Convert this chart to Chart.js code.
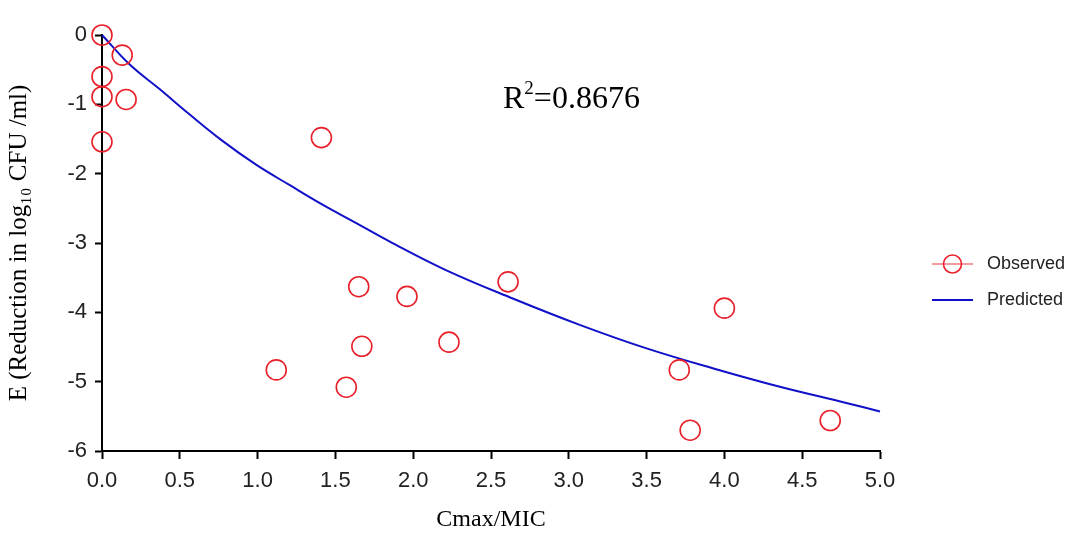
<!DOCTYPE html>
<html>
<head>
<meta charset="utf-8">
<script src="https://cdn.jsdelivr.net/npm/chart.js@4.4.0/dist/chart.umd.min.js"></script>
<style>
html,body{margin:0;padding:0;background:#fff;}
#wrap{width:1084px;height:535px;position:relative;}
</style>
</head>
<body>
<div id="wrap"><canvas id="c" width="1084" height="535"></canvas></div>
<script>
// ---- data ----
const observedX = [0, 0.13, 0, 0, 0.155, 0, 1.41, 1.65, 1.67, 1.12, 1.57, 1.96, 2.61, 2.23, 4.00, 3.71, 3.78, 4.68];
const observedY = [0, -0.29, -0.60, -0.89, -0.93, -1.54, -1.48, -3.63, -4.49, -4.83, -5.08, -3.77, -3.56, -4.43, -3.94, -4.83, -5.70, -5.56];
const predictedX = [0, 0.18, 0.37, 0.56, 0.77, 0.99, 1.21, 1.42, 1.64, 1.85, 2.21, 2.64, 3.07, 3.50, 3.93, 4.35, 4.79, 5.0];
const predictedY = [0, -0.43, -0.78, -1.14, -1.52, -1.87, -2.17, -2.45, -2.72, -2.98, -3.39, -3.80, -4.18, -4.52, -4.81, -5.07, -5.31, -5.43];
const xTickValues = [0, 0.5, 1.0, 1.5, 2.0, 2.5, 3.0, 3.5, 4.0, 4.5, 5.0];
const yTickValues = [0, -1, -2, -3, -4, -5, -6];
const seriesLabels = ['Observed', 'Predicted'];
const xTitle = 'Cmax/MIC';
const yTitle = 'E (Reduction in log\u2081\u2080 CFU /ml)';
const r2Base = 'R', r2Sup = '2', r2Rest = '=0.8676';

const RED = '#e8202a';
const BLUE = '#1010c8';
const SANS = '"Liberation Sans", Arial, sans-serif';
const SERIF = '"Liberation Serif", "Times New Roman", serif';

const observedPts = observedX.map((x, i) => ({x: x, y: observedY[i]}));
const predictedPts = predictedX.map((x, i) => ({x: x, y: predictedY[i]}));

const extras = {
  id: 'extras',
  afterDraw(chart) {
    const ctx = chart.ctx;
    const ca = chart.chartArea;
    ctx.save();
    // R^2 annotation
    ctx.fillStyle = '#000';
    ctx.textBaseline = 'alphabetic';
    ctx.textAlign = 'left';
    let x = 503, y = 108;
    ctx.font = '32px ' + SERIF;
    ctx.fillText(r2Base, x, y);
    x += ctx.measureText(r2Base).width;
    ctx.font = '19px ' + SERIF;
    ctx.fillText(r2Sup, x, y - 14);
    x += ctx.measureText(r2Sup).width;
    ctx.font = '32px ' + SERIF;
    ctx.fillText(r2Rest, x, y);

    // legend
    const ds = chart.data.datasets;
    const lx0 = ca.right + 52, lx1 = ca.right + 93, tx = ca.right + 107;
    const rows = [264, 300];
    ctx.font = '18px ' + SANS;
    ctx.textBaseline = 'middle';
    ds.forEach((d, i) => {
      const ry = rows[i];
      if (i === 0) {
        ctx.strokeStyle = 'rgba(232,32,42,0.45)';
        ctx.lineWidth = 2;
        ctx.beginPath(); ctx.moveTo(lx0, ry); ctx.lineTo(lx1, ry); ctx.stroke();
        ctx.strokeStyle = d.pointBorderColor;
        ctx.lineWidth = 1.6;
        ctx.beginPath(); ctx.arc((lx0 + lx1) / 2, ry, 9, 0, Math.PI * 2); ctx.stroke();
      } else {
        ctx.strokeStyle = d.borderColor;
        ctx.lineWidth = 2;
        ctx.beginPath(); ctx.moveTo(lx0, ry); ctx.lineTo(lx1, ry); ctx.stroke();
      }
      ctx.fillStyle = '#222';
      ctx.fillText(d.label, tx, ry);
    });
    ctx.restore();
  }
};

new Chart(document.getElementById('c'), {
  type: 'scatter',
  data: {
    datasets: [
      {
        label: seriesLabels[0],
        data: observedPts,
        showLine: false,
        pointRadius: 10,
        pointHoverRadius: 10,
        pointBorderWidth: 1.6,
        pointBorderColor: RED,
        pointBackgroundColor: 'rgba(0,0,0,0)',
        clip: false,
        order: 1
      },
      {
        label: seriesLabels[1],
        data: predictedPts,
        showLine: true,
        borderColor: BLUE,
        borderWidth: 2,
        pointRadius: 0,
        tension: 0.4,
        clip: false,
        order: 2
      }
    ]
  },
  options: {
    responsive: false,
    animation: false,
    devicePixelRatio: 1,
    layout: {padding: {top: 35, right: 204, left: 0, bottom: 0}},
    plugins: {legend: {display: false}, tooltip: {enabled: false}},
    scales: {
      x: {
        type: 'linear',
        min: 0, max: 5,
        afterFit: s => { s.height = 84; },
        afterBuildTicks: s => { s.ticks = xTickValues.map(v => ({value: v})); },
        ticks: {
          callback: v => Number(v).toFixed(1),
          font: {family: SANS, size: 22},
          color: '#222',
          padding: 9,
          maxRotation: 0
        },
        grid: {display: true, drawOnChartArea: false, drawTicks: true, tickLength: 8, tickWidth: 2, tickColor: '#000'},
        border: {display: true, color: '#000', width: 2},
        title: {display: true, text: xTitle, color: '#000', font: {family: SERIF, size: 24}, padding: {top: 0, bottom: 1}}
      },
      y: {
        type: 'linear',
        min: -6, max: 0,
        afterFit: s => { s.width = 102; },
        afterBuildTicks: s => { s.ticks = yTickValues.map(v => ({value: v})); },
        ticks: {
          font: {family: SANS, size: 22},
          color: '#222',
          padding: 8
        },
        grid: {display: true, drawOnChartArea: false, drawTicks: true, tickLength: 7, tickWidth: 2, tickColor: '#000'},
        border: {display: true, color: '#000', width: 2},
        title: {display: true, text: yTitle, color: '#000', font: {family: SERIF, size: 25}, padding: {top: 4, bottom: 0}}
      }
    }
  },
  plugins: [extras]
});
</script>
</body>
</html>
